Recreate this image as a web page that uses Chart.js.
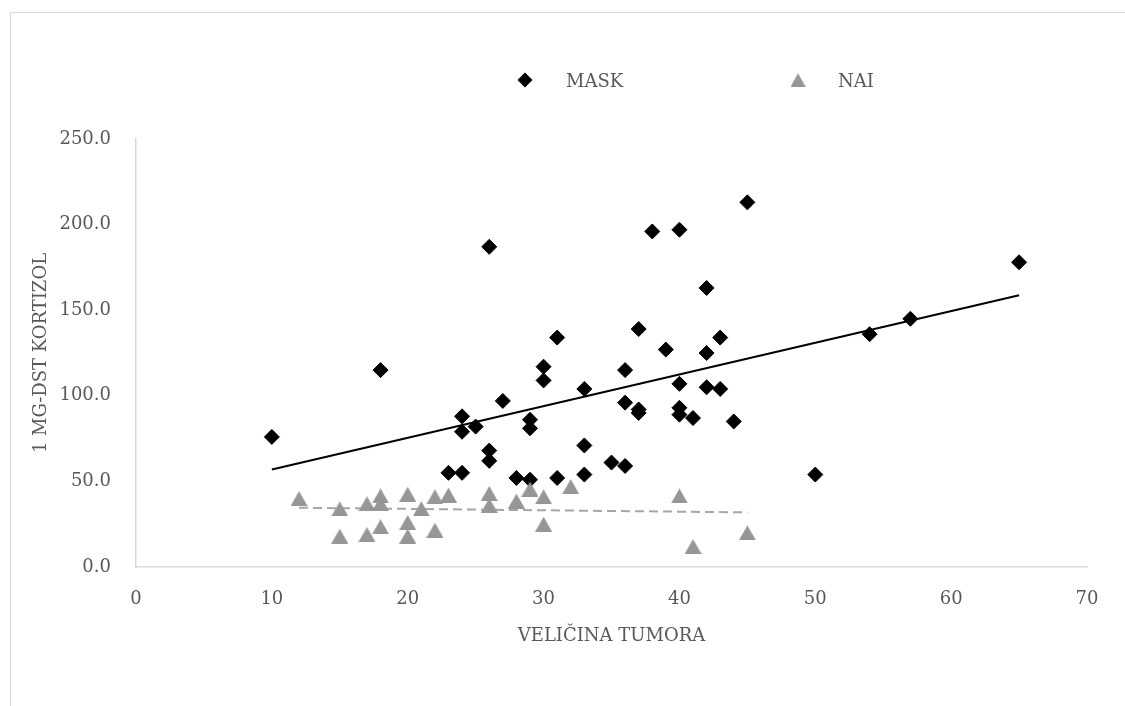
<!DOCTYPE html>
<html>
<head>
<meta charset="utf-8">
<script src="https://cdn.jsdelivr.net/npm/chart.js@4.4.1/dist/chart.umd.min.js"></script>
<style>
  html, body { margin: 0; padding: 0; background: #fff; overflow: hidden; }
  #wrap { position: relative; width: 1125px; height: 706px; }
  #frame { position: absolute; left: 10px; top: 12px; width: 1200px; height: 800px;
           border-top: 1px solid #d9d9d9; border-left: 1px solid #d9d9d9; }
  canvas { position: absolute; left: 0; top: 0; }
</style>
</head>
<body>
<div id="wrap"><div id="frame"></div><canvas id="c" width="1125" height="706"></canvas></div>
<script>
// Tumour size (x) and 1 mg DST cortisol (y) per group
const maskX = [10, 18, 23, 24, 24, 24, 25, 26, 26, 26, 27, 28, 29, 29, 29, 30, 30, 31, 31, 33, 33, 33, 35, 36, 36, 36, 37, 37, 37, 38, 39, 40, 40, 40, 40, 41, 42, 42, 42, 43, 43, 44, 45, 50, 54, 57, 65];
const maskY = [76, 115, 55, 55, 88, 79, 82, 187, 68, 62, 97, 52, 51, 86, 81, 117, 109, 134, 52, 71, 54, 104, 61, 59, 115, 96, 139, 92, 90, 196, 127, 197, 107, 93, 89, 87, 163, 125, 105, 134, 104, 85, 213, 54, 136, 145, 178];

const naiX = [12, 15, 15, 17, 17, 18, 18, 18, 20, 20, 20, 21, 22, 22, 23, 26, 26, 28, 29, 30, 30, 32, 40, 41, 45];
const naiY = [40, 34, 18, 37, 19, 41.5, 37, 23.5, 42.5, 26, 18, 34, 41, 21.5, 42, 43, 36, 38.5, 45.5, 41, 25, 47, 41.5, 12, 20];

// Linear trend lines (end points)
const maskTrendX = [10, 65];
const maskTrendY = [57, 158.7];
const naiTrendX = [12, 45];
const naiTrendY = [34.6, 31.9];

const seriesNames = ['MASK', 'NAI'];
const xTicks = { min: 0, max: 70, step: 10 };
const yTicks = { min: 0, max: 250, step: 50 };

const TEXT = '#595959';
const FONT = 'DejaVu Serif';
const NAI_GRAY = '#969696';

function toPoints(xs, ys) { return xs.map((x, i) => ({ x: x, y: ys[i] })); }

function makeTriangle(w, h, color) {
  const cv = document.createElement('canvas');
  cv.width = w; cv.height = h;
  const g = cv.getContext('2d');
  g.fillStyle = color;
  g.beginPath();
  g.moveTo(0, h); g.lineTo(w / 2, 0); g.lineTo(w, h); g.closePath();
  g.fill();
  return cv;
}
const triMark = makeTriangle(17, 15, NAI_GRAY);

// Legend row drawn above the plot area
const topLegend = {
  id: 'topLegend',
  afterDraw(chart, args, opts) {
    const ctx = chart.ctx;
    ctx.save();
    ctx.font = '18px "' + FONT + '"';
    ctx.fillStyle = TEXT;
    ctx.textBaseline = 'middle';
    ctx.textAlign = 'left';
    opts.items.forEach(it => {
      const ds = chart.data.datasets.find(d => d.label === it.label);
      if (ds.pointStyle === 'rectRot') {
        const r = it.size;
        ctx.save();
        ctx.fillStyle = ds.backgroundColor;
        ctx.beginPath();
        ctx.moveTo(it.x, it.y - r); ctx.lineTo(it.x + r, it.y);
        ctx.lineTo(it.x, it.y + r); ctx.lineTo(it.x - r, it.y);
        ctx.closePath();
        ctx.fill();
        ctx.restore();
      } else {
        const w = it.size * 2, h = it.size * 1.85;
        ctx.drawImage(ds.pointStyle, it.x - w / 2, it.y - h / 2, w, h);
      }
      ctx.fillText(it.label, it.textX, it.y + 2);
    });
    ctx.restore();
  }
};

new Chart(document.getElementById('c'), {
  type: 'scatter',
  data: {
    datasets: [
      { label: seriesNames[1], data: toPoints(naiX, naiY), pointStyle: triMark,
        pointRadius: 9, backgroundColor: NAI_GRAY, borderWidth: 0, order: 0 },
      { label: seriesNames[0], data: toPoints(maskX, maskY), pointStyle: 'rectRot',
        pointRadius: 7.5, backgroundColor: '#000', borderColor: '#000', borderWidth: 1, order: 1 },
      { label: 'MASK trend', type: 'line', data: toPoints(maskTrendX, maskTrendY),
        borderColor: '#000', borderWidth: 2, pointRadius: 0, fill: false, order: 2 },
      { label: 'NAI trend', type: 'line', data: toPoints(naiTrendX, naiTrendY),
        borderColor: '#a6a6a6', borderWidth: 2, borderDash: [9, 5], pointRadius: 0, fill: false, order: 3 }
    ]
  },
  options: {
    responsive: false,
    animation: false,
    devicePixelRatio: 1,
    layout: { padding: { left: 0, right: 38, top: 139, bottom: 0 } },
    plugins: {
      legend: { display: false },
      tooltip: { enabled: false },
      topLegend: {
        items: [
          { label: seriesNames[0], x: 525, y: 80, size: 7.5, textX: 566 },
          { label: seriesNames[1], x: 798, y: 80, size: 7.5, textX: 838 }
        ]
      }
    },
    scales: {
      x: {
        type: 'linear', min: xTicks.min, max: xTicks.max,
        ticks: { stepSize: xTicks.step, color: TEXT, font: { family: FONT, size: 18 }, padding: 22 },
        grid: { display: true, color: 'transparent', drawTicks: false },
        border: { display: true, color: '#d9d9d9', width: 1.5 },
        title: { display: true, text: 'VELIČINA TUMORA', color: TEXT,
                 font: { family: FONT, size: 18 }, padding: { top: 0, bottom: 59 } },
        afterFit(s) { s.height = 139; }
      },
      y: {
        type: 'linear', min: yTicks.min, max: yTicks.max,
        ticks: { stepSize: yTicks.step, color: TEXT, font: { family: FONT, size: 18 }, padding: 25,
                 callback: v => Number(v).toFixed(1) },
        grid: { display: true, color: 'transparent', drawTicks: false },
        border: { display: true, color: '#d9d9d9', width: 1.5 },
        title: { display: true, text: '1 MG-DST KORTIZOL', color: TEXT,
                 font: { family: FONT, size: 18 }, padding: { top: 31, bottom: 0 } },
        afterFit(s) { s.width = 136; }
      }
    }
  },
  plugins: [topLegend]
});
</script>
</body>
</html>
